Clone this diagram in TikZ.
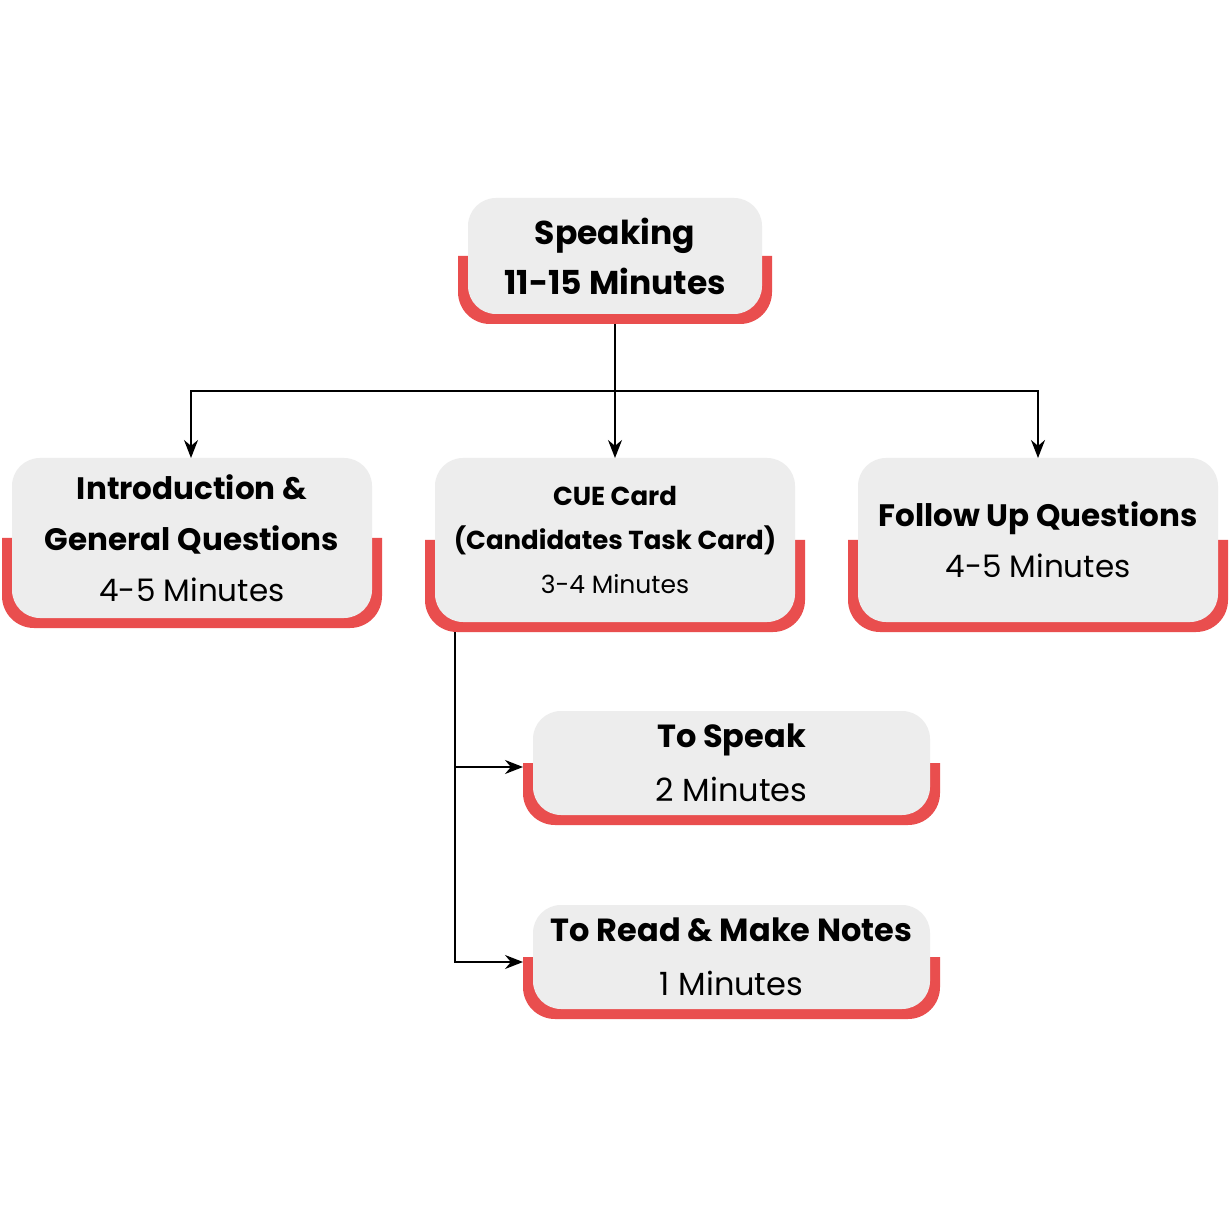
\documentclass[tikz,border=0pt]{standalone}
\usepackage{fontspec}
\setmainfont{Poppins}
\usetikzlibrary{arrows.meta}
\definecolor{rd}{HTML}{E94E4E}
\definecolor{gy}{HTML}{EDEDED}
\newcommand{\cbox}[8]{%
  \fill[rd] (#2-10,#6) -- (#4+10,#6) [rounded corners=16] -- (#4+10,#5+10) -- (#2-10,#5+10) [sharp corners] -- cycle;
  \fill[gy,rounded corners=14] (#2,#3) rectangle (#4,#5);
  \node[align=center,inner sep=0,font=#7] (#1) at ({(#2+#4)/2},{(#3+#5)/2}) {#8};
  \coordinate (#1b) at ({(#2+#4)/2},#5+10);
}
\begin{document}
\begin{tikzpicture}[x=0.5pt,y=-0.5pt,arr/.style={-{Stealth[length=9pt,width=7pt]},line width=0.8pt}]
\useasboundingbox[fill=white] (0,0) rectangle (1230,1218);
\cbox{top}{468}{198}{762}{314}{256}{\fontsize{16.5}{25}\selectfont\bfseries}{Speaking\\11-15 Minutes}
\cbox{intro}{12}{458}{372}{618}{538}{\fontsize{15.5}{25.5}\selectfont}{{\bfseries Introduction \&}\\{\bfseries General Questions}\\4-5 Minutes}
\cbox{cue}{435}{458}{795}{622}{540}{\fontsize{13}{22}\selectfont}{{\bfseries CUE Card}\\{\bfseries (Candidates Task Card)}\\{\fontsize{12.5}{15}\selectfont 3-4 Minutes}}
\cbox{fol}{858}{458}{1218}{622}{540}{\fontsize{15.5}{25.5}\selectfont}{{\bfseries Follow Up Questions}\\4-5 Minutes}
\cbox{spk}{533}{711}{930}{815}{763}{\fontsize{16}{27}\selectfont}{{\bfseries To Speak}\\2 Minutes}
\cbox{rdn}{533}{905}{930}{1009}{957}{\fontsize{16}{27}\selectfont}{{\bfseries To Read \& Make Notes}\\1 Minutes}
\coordinate (j) at (615,391);
\coordinate (ia) at (191,458);
\coordinate (ca) at (615,458);
\coordinate (fa) at (1038,458);
\coordinate (cs) at (455,632);
\coordinate (sa) at (523,767);
\coordinate (ra) at (523,962);
\draw[line width=0.8pt] (topb) -- (j);
\draw[arr] (j) -- (ca);
\draw[arr] (j) -| (ia);
\draw[arr] (j) -| (fa);
\draw[arr] (cs) |- (sa);
\draw[arr] (cs) |- (ra);
\end{tikzpicture}
\end{document}
